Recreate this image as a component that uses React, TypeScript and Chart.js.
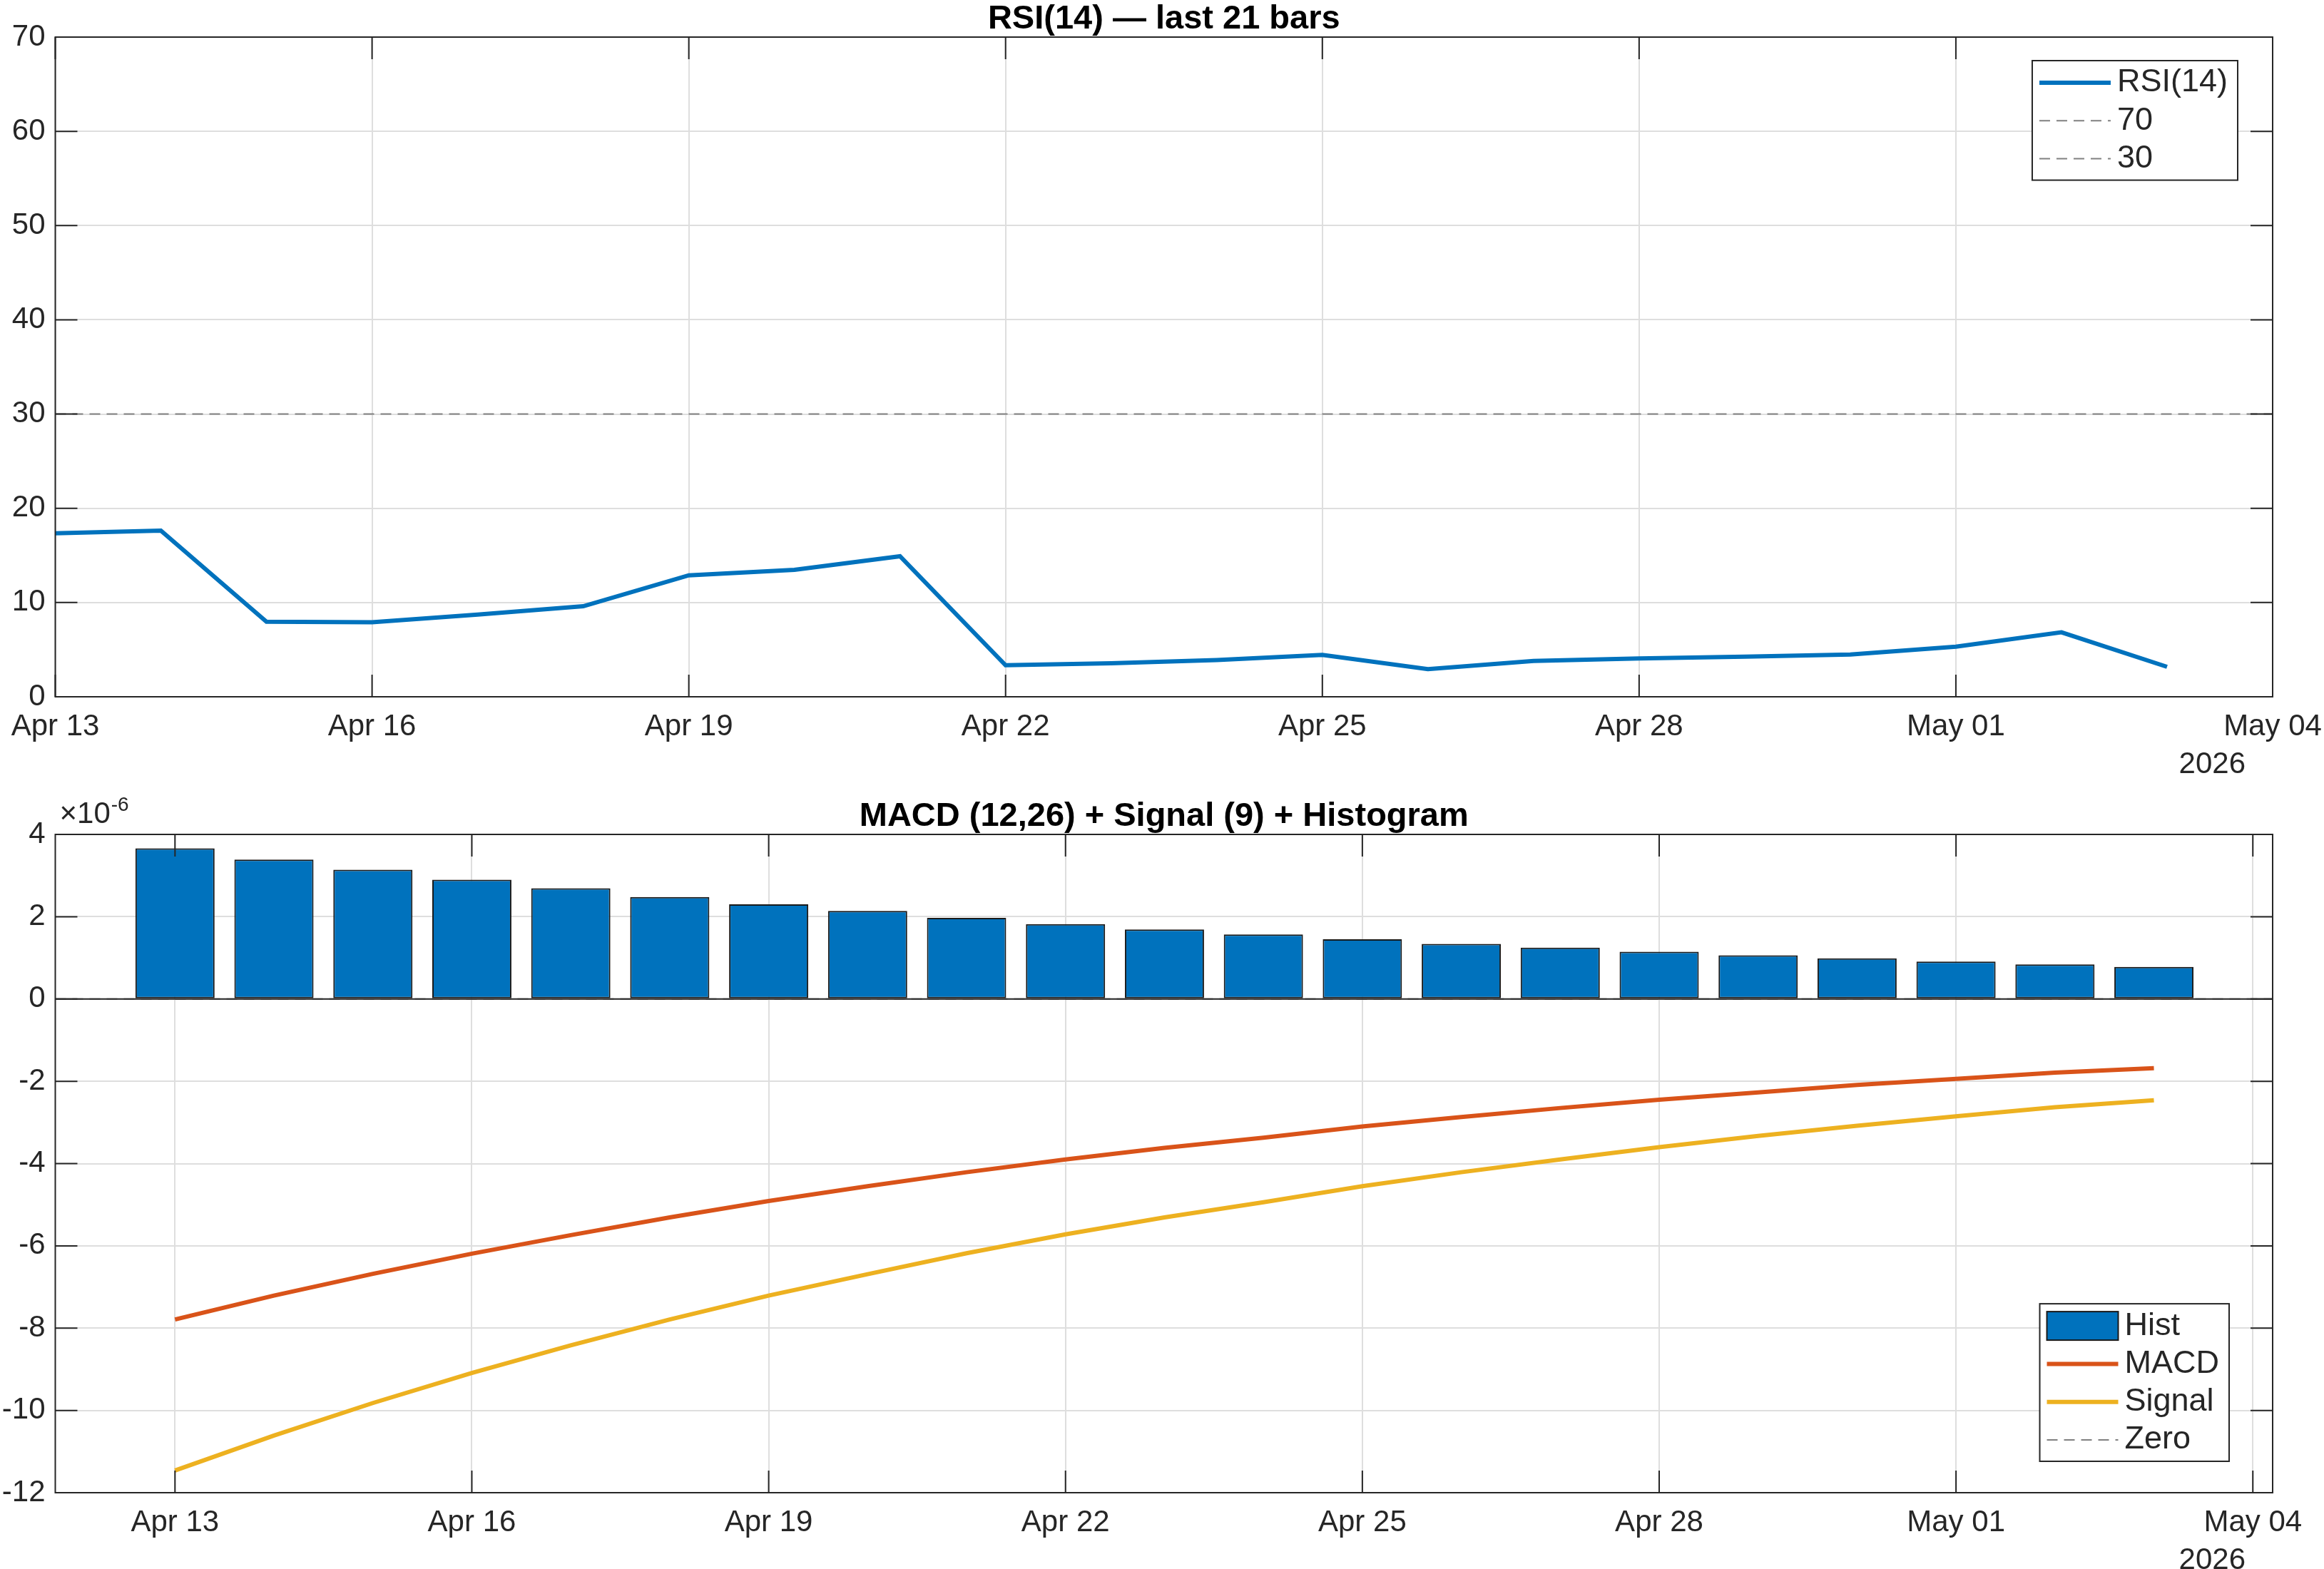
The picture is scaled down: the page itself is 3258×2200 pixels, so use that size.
import React, { useEffect, useRef } from 'react';
import { Chart, registerables } from 'chart.js';

Chart.register(...registerables);

const FONT = '"Liberation Sans", Arial, Helvetica, sans-serif';
const AXIS_COLOR = '#262626';
const GRID_COLOR = '#dedede';
const TICK_LEN = 31;

// Daily bars, Apr 13 .. May 03 2026 (x = day offset from Apr 13)
const barDates = [
  'Apr 13', 'Apr 14', 'Apr 15', 'Apr 16', 'Apr 17', 'Apr 18', 'Apr 19',
  'Apr 20', 'Apr 21', 'Apr 22', 'Apr 23', 'Apr 24', 'Apr 25', 'Apr 26',
  'Apr 27', 'Apr 28', 'Apr 29', 'Apr 30', 'May 01', 'May 02', 'May 03',
];
const dayOffsets = barDates.map((_, i) => i);

const xTickDays = [0, 3, 6, 9, 12, 15, 18, 21];
const xTickLabels = ['Apr 13', 'Apr 16', 'Apr 19', 'Apr 22', 'Apr 25', 'Apr 28', 'May 01', 'May 04'];
const yearLabel = '2026';

// RSI(14)
const rsi14 = [
  17.35, 17.63, 7.97, 7.9, 8.73, 9.61, 12.89, 13.47, 14.91, 3.35, 3.55,
  3.9, 4.44, 2.93, 3.81, 4.06, 4.26, 4.49, 5.32, 6.84, 3.18,
];
const rsiUpper = 70;
const rsiLower = 30;
const rsiTicks = [0, 10, 20, 30, 40, 50, 60, 70];

// MACD (12,26), Signal (9) and histogram, in units of 1e-6
const histE6 = [
  3.66, 3.39, 3.14, 2.9, 2.69, 2.48, 2.3, 2.14, 1.97, 1.82, 1.69,
  1.57, 1.45, 1.34, 1.25, 1.15, 1.06, 0.99, 0.91, 0.84, 0.78,
];
const macdE6 = [
  -7.79, -7.21, -6.68, -6.19, -5.74, -5.31, -4.91, -4.55, -4.21, -3.9, -3.62,
  -3.37, -3.1, -2.87, -2.65, -2.45, -2.27, -2.09, -1.94, -1.79, -1.68,
];
const signalE6 = [
  -11.46, -10.61, -9.82, -9.09, -8.42, -7.79, -7.21, -6.69, -6.18, -5.72, -5.31,
  -4.94, -4.55, -4.21, -3.9, -3.6, -3.33, -3.08, -2.85, -2.63, -2.46,
];
const macdTicks = [-12, -10, -8, -6, -4, -2, 0, 2, 4];
const macdXMin = -1.21;
const macdXMax = 21.2;

const W = 3258;
const PANEL_H = 1100;

const pts = (ys: number[]) => ys.map((y, i) => ({ x: dayOffsets[i], y }));

// Axes box, inward ticks, bar baseline, title, legend and extra labels
const decorPlugin = {
  id: 'decor',
  afterDatasetsDraw(chart: any, _args: any, opts: any) {
    const { ctx, chartArea: ca, scales } = chart;
    const xs = scales.x;
    const ys = scales.y;
    ctx.save();

    if (opts.baseline !== undefined) {
      const y0 = ys.getPixelForValue(opts.baseline);
      ctx.setLineDash([]);
      ctx.strokeStyle = AXIS_COLOR;
      ctx.lineWidth = 2;
      ctx.beginPath();
      ctx.moveTo(ca.left, y0);
      ctx.lineTo(ca.right, y0);
      ctx.stroke();
    }

    ctx.setLineDash([]);
    ctx.strokeStyle = AXIS_COLOR;
    ctx.lineWidth = 2;
    ctx.beginPath();
    for (const t of xs.ticks) {
      const px = xs.getPixelForValue(t.value);
      ctx.moveTo(px, ca.bottom);
      ctx.lineTo(px, ca.bottom - TICK_LEN);
      ctx.moveTo(px, ca.top);
      ctx.lineTo(px, ca.top + TICK_LEN);
    }
    for (const t of ys.ticks) {
      const py = ys.getPixelForValue(t.value);
      ctx.moveTo(ca.left, py);
      ctx.lineTo(ca.left + TICK_LEN, py);
      ctx.moveTo(ca.right, py);
      ctx.lineTo(ca.right - TICK_LEN, py);
    }
    ctx.stroke();
    ctx.strokeRect(ca.left, ca.top, ca.right - ca.left, ca.bottom - ca.top);

    // title
    ctx.fillStyle = '#000';
    ctx.font = `bold 47px ${FONT}`;
    ctx.textAlign = 'center';
    ctx.textBaseline = 'alphabetic';
    ctx.fillText(opts.title, (ca.left + ca.right) / 2, ca.top - 12);

    // exponent label
    if (opts.exponent) {
      ctx.fillStyle = AXIS_COLOR;
      ctx.textAlign = 'left';
      ctx.font = `42px ${FONT}`;
      const base = '\u00d710';
      const bx = ca.left + 6;
      ctx.fillText(base, bx, ca.top - 16);
      const bw = ctx.measureText(base).width;
      ctx.font = `28px ${FONT}`;
      ctx.fillText(opts.exponent, bx + bw + 1, ca.top - 33);
    }

    // year under the last date tick
    ctx.fillStyle = AXIS_COLOR;
    ctx.font = `42px ${FONT}`;
    ctx.textAlign = 'right';
    ctx.fillText(opts.year, ca.right - 38, ca.bottom + 107);

    // legend
    const lg = opts.legend;
    const items = chart.data.datasets;
    ctx.font = `45px ${FONT}`;
    const maxW = Math.max(...items.map((d: any) => ctx.measureText(d.label).width));
    const rowH = 53.3;
    const w = 10 + 100 + 9 + maxW + 14;
    const h = 61 + rowH * (items.length - 1);
    const x0 = ca.right - lg.right - w;
    const y0 = lg.top !== undefined ? ca.top + lg.top : ca.bottom - lg.bottom - h;
    ctx.fillStyle = '#fff';
    ctx.fillRect(x0, y0, w, h);
    ctx.strokeStyle = AXIS_COLOR;
    ctx.lineWidth = 2;
    ctx.setLineDash([]);
    ctx.strokeRect(x0, y0, w, h);
    items.forEach((d: any, i: number) => {
      const cy = y0 + 31 + rowH * i;
      if (d.type === 'bar') {
        ctx.fillStyle = d.backgroundColor;
        ctx.fillRect(x0 + 10, cy - 20, 100, 40);
        ctx.strokeStyle = d.borderColor;
        ctx.lineWidth = 2;
        ctx.strokeRect(x0 + 10, cy - 20, 100, 40);
      } else {
        ctx.strokeStyle = d.borderColor;
        ctx.lineWidth = d.borderWidth;
        ctx.setLineDash(d.borderDash || []);
        ctx.beginPath();
        ctx.moveTo(x0 + 10, cy);
        ctx.lineTo(x0 + 110, cy);
        ctx.stroke();
        ctx.setLineDash([]);
      }
      ctx.fillStyle = AXIS_COLOR;
      ctx.font = `45px ${FONT}`;
      ctx.textAlign = 'left';
      ctx.textBaseline = 'middle';
      ctx.fillText(d.label, x0 + 119, cy);
    });

    ctx.restore();
  },
};

const tickFont = { family: FONT, size: 42 };

function xAxis(min: number, max: number, height: number) {
  return {
    type: 'linear',
    min,
    max,
    offset: false,
    afterBuildTicks: (s: any) => {
      s.ticks = xTickDays.map((v) => ({ value: v }));
    },
    afterFit: (s: any) => {
      s.height = height;
      s.paddingLeft = 0;
      s.paddingRight = 0;
      s.paddingTop = 0;
      s.paddingBottom = 0;
    },
    ticks: {
      callback: (_v: any, i: number) => xTickLabels[i],
      font: tickFont,
      color: AXIS_COLOR,
      padding: 17,
      maxRotation: 0,
      autoSkip: false,
    },
    grid: { color: GRID_COLOR, lineWidth: 2, drawTicks: false, offset: false },
    border: { display: false },
  };
}

function yAxis(min: number, max: number, values: number[]) {
  return {
    type: 'linear',
    min,
    max,
    afterBuildTicks: (s: any) => {
      s.ticks = values.map((v) => ({ value: v }));
    },
    afterFit: (s: any) => {
      s.width = 77.5;
      s.paddingLeft = 0;
      s.paddingRight = 0;
      s.paddingTop = 0;
      s.paddingBottom = 0;
    },
    ticks: {
      callback: (v: any) => String(v),
      font: tickFont,
      color: AXIS_COLOR,
      padding: 14,
      autoSkip: false,
    },
    grid: { color: GRID_COLOR, lineWidth: 2, drawTicks: false, offset: false },
    border: { display: false },
  };
}

function RsiPanel() {
  const ref = useRef<HTMLCanvasElement>(null);
  useEffect(() => {
    const chart = new Chart(ref.current as HTMLCanvasElement, {
      type: 'line',
      data: {
        datasets: [
          {
            type: 'line',
            label: 'RSI(14)',
            data: pts(rsi14),
            borderColor: '#0072BD',
            borderWidth: 6,
            pointRadius: 0,
            tension: 0,
            order: 1,
          },
          {
            type: 'line',
            label: String(rsiUpper),
            data: [{ x: 0, y: rsiUpper }, { x: 21, y: rsiUpper }],
            borderColor: '#808080',
            borderWidth: 2,
            borderDash: [15, 9],
            pointRadius: 0,
            order: 2,
          },
          {
            type: 'line',
            label: String(rsiLower),
            data: [{ x: 0, y: rsiLower }, { x: 21, y: rsiLower }],
            borderColor: '#808080',
            borderWidth: 2,
            borderDash: [15, 9],
            pointRadius: 0,
            order: 3,
          },
        ],
      },
      options: {
        animation: false,
        responsive: false,
        devicePixelRatio: 1,
        layout: { padding: { top: 52, right: 72, left: 0, bottom: 0 } },
        scales: {
          x: xAxis(0, 21, PANEL_H - 977) as any,
          y: yAxis(0, 70, rsiTicks) as any,
        },
        plugins: {
          legend: { display: false },
          tooltip: { enabled: false },
          decor: {
            title: 'RSI(14) \u2014 last 21 bars',
            year: yearLabel,
            legend: { right: 49, top: 33 },
          },
        } as any,
      },
      plugins: [decorPlugin],
    });
    return () => chart.destroy();
  }, []);
  return <canvas ref={ref} width={W} height={PANEL_H} style={{ display: 'block' }} />;
}

function MacdPanel() {
  const ref = useRef<HTMLCanvasElement>(null);
  useEffect(() => {
    const chart = new Chart(ref.current as HTMLCanvasElement, {
      type: 'bar',
      data: {
        datasets: [
          {
            type: 'bar',
            label: 'Hist',
            data: pts(histE6),
            backgroundColor: '#0072BD',
            borderColor: '#1a1a1a',
            borderWidth: 2,
            borderSkipped: false,
            barPercentage: 0.8,
            categoryPercentage: 1,
            order: 4,
          },
          {
            type: 'line',
            label: 'MACD',
            data: pts(macdE6),
            borderColor: '#D95319',
            borderWidth: 6,
            pointRadius: 0,
            tension: 0,
            order: 2,
          },
          {
            type: 'line',
            label: 'Signal',
            data: pts(signalE6),
            borderColor: '#EDB120',
            borderWidth: 6,
            pointRadius: 0,
            tension: 0,
            order: 1,
          },
          {
            type: 'line',
            label: 'Zero',
            data: [{ x: macdXMin, y: 0 }, { x: macdXMax, y: 0 }],
            borderColor: '#808080',
            borderWidth: 2,
            borderDash: [15, 9],
            pointRadius: 0,
            order: 3,
          },
        ] as any,
      },
      options: {
        animation: false,
        responsive: false,
        devicePixelRatio: 1,
        layout: { padding: { top: 70, right: 72, left: 0, bottom: 0 } },
        scales: {
          x: xAxis(macdXMin, macdXMax, PANEL_H - 993) as any,
          y: yAxis(-12, 4, macdTicks) as any,
        },
        plugins: {
          legend: { display: false },
          tooltip: { enabled: false },
          decor: {
            title: 'MACD (12,26) + Signal (9) + Histogram',
            year: yearLabel,
            exponent: '-6',
            baseline: 0,
            legend: { right: 61, bottom: 44 },
          },
        } as any,
      },
      plugins: [decorPlugin],
    });
    return () => chart.destroy();
  }, []);
  return <canvas ref={ref} width={W} height={PANEL_H} style={{ display: 'block' }} />;
}

export default function App() {
  return (
    <div
      style={{
        position: 'absolute',
        left: 0,
        top: 0,
        width: W,
        height: PANEL_H * 2,
        background: '#fff',
      }}
    >
      <RsiPanel />
      <MacdPanel />
    </div>
  );
}
